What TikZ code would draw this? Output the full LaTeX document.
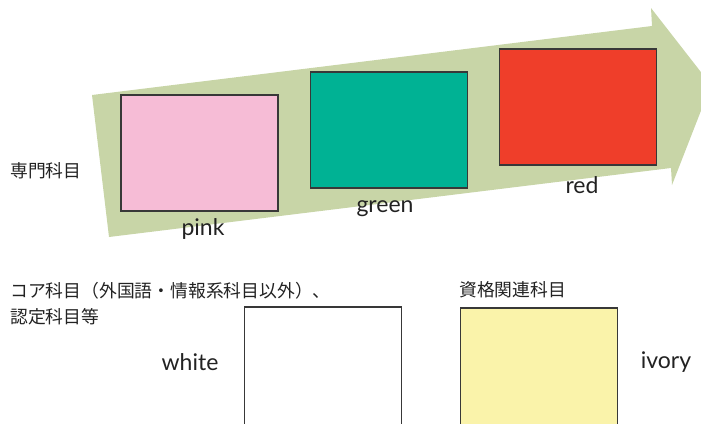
\documentclass[tikz,border=0pt]{standalone}
\usepackage{fontspec}
\setmainfont{Lato}
\newfontfamily\jpfont{Noto Sans CJK JP}
\definecolor{arrowgreen}{HTML}{C8D5A7}
\definecolor{boxpink}{HTML}{F6BCD6}
\definecolor{boxgreen}{HTML}{00B294}
\definecolor{boxred}{HTML}{EF3E2A}
\definecolor{boxivory}{HTML}{FAF3AA}
\definecolor{txt}{HTML}{222222}
\definecolor{edge}{HTML}{383838}
\begin{document}
\begin{tikzpicture}[x=1pt,y=-1pt,
  colbox/.style={draw=edge,line width=1.2pt,minimum width=157pt,minimum height=116pt,inner sep=0pt},
  lbl/.style={text=txt,font=\fontsize{23}{26}\selectfont,inner sep=0pt},
  jp/.style={text=txt,font=\jpfont\fontsize{17.8}{20}\selectfont,anchor=west,inner sep=0pt}]
\useasboundingbox (0,0) rectangle (701,423);
\clip (0,0) rectangle (701,423);
% big arrow
\fill[arrowgreen] (92,95) -- (652,26) -- (651,8) -- (711,85) -- (672,185) -- (671,168) -- (109,237) -- cycle;
% coloured boxes
\node[colbox,fill=boxpink] (pinkbox) at (199.5,153) {};
\node[colbox,fill=boxgreen] (greenbox) at (389,130) {};
\node[colbox,fill=boxred] (redbox) at (578,107) {};
\node[lbl] (pinklbl) at (203,229) {pink};
\node[lbl] (greenlbl) at (385,209) {green};
\node[lbl] (redlbl) at (582,185) {red};
\node[jp] (senmon) at (10,170.5) {専門科目};
% bottom boxes
\node[colbox,fill=white,minimum height=160pt] (whitebox) at (323,387) {};
\node[colbox,fill=boxivory,minimum height=160pt] (ivorybox) at (539,388) {};
\node[lbl] (whitelbl) at (190,362) {white};
\node[lbl] (ivorylbl) at (666,362) {ivory};
\node[jp] (core1) at (10,291) {コア科目（外国語・情報系科目以外）、};
\node[jp] (core2) at (10,317) {認定科目等};
\node[jp] (shikaku) at (459,290) {資格関連科目};
\end{tikzpicture}
\end{document}
